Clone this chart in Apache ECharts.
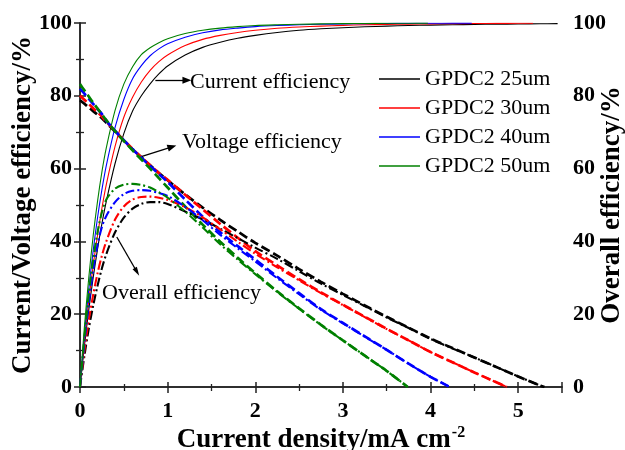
<!DOCTYPE html>
<html>
<head>
<meta charset="utf-8">
<script src="https://cdn.jsdelivr.net/npm/echarts@6/dist/echarts.min.js"></script>
<style>
html,body{margin:0;padding:0;background:#fff;}
#chart{width:625px;height:450px;}
</style>
</head>
<body>
<div id="chart"></div>
<script>
// Current density grid (mA cm^-2)
const xGrid = [0,0.05,0.1,0.15,0.2,0.25,0.3,0.4,0.5,0.6,0.7,0.8,0.9,1.0,1.2,1.4,1.6,1.8,2.0,2.25,2.5,2.75,3.0,3.25,3.5,3.75,4.0,4.25,4.5,4.75,5.0,5.25];

const seriesNames = ['GPDC2 25um','GPDC2 30um','GPDC2 40um','GPDC2 50um'];
const colors = ['#000000','#ff0000','#0000ff','#008000'];

// Current efficiency (solid)
const ce25 = [0,11.2,21.2,30.0,37.9,44.9,51.0,61.4,69.6,75.8,80.0,83.3,86.0,88.2,91.2,93.3,94.7,95.8,96.6,97.4,98.0,98.4,98.7,98.95,99.15,99.3,99.42,99.52,99.6,99.67,99.73,99.78];
const ce30 = [0,12.6,23.7,33.3,41.7,49.1,55.6,66.1,74.1,79.6,83.8,87.0,89.4,91.2,93.8,95.5,96.6,97.4,98.0,98.55,98.9,99.15,99.35,99.5,99.6,99.7,99.77,99.82,99.86,99.9,99.92];
const ce40 = [0,14.5,26.8,37.4,46.5,54.2,60.8,71.3,79.0,84.7,88.3,91.0,92.9,94.3,96.1,97.3,98.1,98.6,99.0,99.3,99.5,99.65,99.75,99.82,99.87,99.91,99.94,99.96];
const ce50 = [0,16.4,30.0,41.5,51.0,59.1,65.7,76.0,83.2,88.0,91.3,93.2,94.6,95.7,97.1,98.0,98.6,99.0,99.3,99.5,99.65,99.75,99.82,99.88,99.92,99.95];
const ceEnd = [[5.45,99.82],[5.17,99.94],[4.47,99.97],[3.97,99.97]];

// Voltage efficiency (dashed)
const ve25 = [78.8,77.8,76.8,75.8,74.8,73.8,72.6,70.2,67.7,65.3,63.1,60.9,58.8,56.8,52.9,49.3,45.9,42.7,39.6,36.1,32.4,28.9,25.6,22.4,19.3,16.3,13.3,10.7,8.1,5.5,2.9,0.4];
const ve30 = [80.1,78.9,77.8,76.6,75.5,74.3,72.9,70.3,67.8,65.4,63.1,60.9,58.8,56.9,52.8,48.8,44.8,41.0,37.3,33.4,29.6,26.0,22.6,19.3,16.0,12.8,9.6,6.8,4.0,1.3];
const ve40 = [82.0,80.6,79.2,77.8,76.4,75.0,73.2,70.4,67.8,65.3,63.0,60.7,58.5,56.3,51.5,46.8,42.5,38.7,35.0,30.3,25.8,21.4,17.6,13.9,10.2,6.4,2.8];
const ve50 = [83.2,81.5,79.8,78.1,76.5,74.9,73.3,70.3,67.6,65.0,62.5,60.0,57.4,54.8,49.6,44.6,39.9,35.5,31.3,26.3,21.6,17.1,12.8,8.6,4.4];

// Overall efficiency (dash-dot)
const oe25 = [0,8.5,16.0,22.3,27.8,32.6,36.5,42.5,46.5,49.0,50.3,50.8,50.8,50.3,48.2,46.0,43.5,40.9,38.3,35.2,31.8,28.4,25.3,22.2,19.1,16.2,13.2,10.6,8.1,5.5,2.9,0.4];
const oe30 = [0,9.9,18.3,25.3,31.2,36.1,40.0,46.0,49.6,51.5,52.2,52.3,52.0,51.4,49.4,46.6,43.3,39.9,36.6,32.9,29.3,25.8,22.5,19.2,15.9,12.8,9.6,6.8,4.0,1.3];
const oe40 = [0,12.0,23.0,32.0,39.0,44.0,47.0,50.8,53.0,53.9,54.1,53.9,53.3,52.5,49.5,45.8,41.8,38.1,34.5,29.9,25.5,21.2,17.5,13.8,10.2,6.4,2.8];
const oe50 = [0,13.5,25.5,35.0,42.5,48.0,51.5,54.5,55.6,55.8,55.5,54.8,53.5,52.0,48.2,43.8,39.2,35.0,31.0,26.1,21.5,17.0,12.8,8.6,4.4];
const zeroEndX = [5.3,4.87,4.22,3.74];

function pairs(vals, end) {
  const d = vals.map((v, i) => [xGrid[i], v]);
  d.push(end);
  return d;
}

const FONT = '"Times New Roman","Liberation Serif",serif';
const ceData = [ce25, ce30, ce40, ce50];
const veData = [ve25, ve30, ve40, ve50];
const oeData = [oe25, oe30, oe40, oe50];

const series = [];
for (let k = 0; k < 4; k++) {
  series.push({
    name: seriesNames[k], type: 'line', data: pairs(ceData[k], ceEnd[k]),
    symbol: 'none', smooth: 0.3, z: 2 + k,
    lineStyle: {color: colors[k], width: 1.1}, itemStyle: {color: colors[k]}
  });
}
for (let k = 0; k < 4; k++) {
  series.push({
    name: 'VE ' + seriesNames[k], type: 'line', data: pairs(veData[k], [zeroEndX[k], 0]),
    symbol: 'none', smooth: 0.3, z: 6 + k,
    lineStyle: {color: colors[k], width: 2.7, type: [9, 4]}
  });
}
for (let k = 0; k < 4; k++) {
  series.push({
    name: 'OE ' + seriesNames[k], type: 'line', yAxisIndex: 1, data: pairs(oeData[k], [zeroEndX[k], 0]),
    symbol: 'none', smooth: 0.3, z: 10 + k,
    lineStyle: {color: colors[k], width: 2.1, type: [9, 3, 2, 3]}
  });
}
// annotation arrows
series.push({
  name: 'arrows', type: 'line', data: [], z: 20, silent: true,
  markLine: {
    silent: true, symbol: ['none', 'triangle'], symbolSize: [7, 9],
    label: {show: false},
    lineStyle: {color: '#000', width: 1.3, type: 'solid'},
    data: [
      [{coord: [0.86, 84.3]}, {coord: [1.22, 84.3]}],
      [{coord: [0.69, 63.2]}, {coord: [1.05, 66.0]}],
      [{coord: [0.42, 41.2], symbolSize: [5, 9]}, {coord: [0.65, 31.6], symbolSize: [5, 9]}]
    ]
  }
});

const axisLineStyle = {color: '#222', width: 1.5};
const labelStyle = {color: '#000', fontFamily: FONT, fontWeight: 'bold', fontSize: 22};
const nameStyle = {fontFamily: FONT, fontWeight: 'bold', fontSize: 27, color: '#000'};

const option = {
  animation: false,
  backgroundColor: '#fff',
  grid: {left: 80, right: 63, top: 23, bottom: 63, containLabel: false, outerBoundsMode: 'none'},
  legend: {
    data: seriesNames.map((n, k) => ({name: n, itemStyle: {color: colors[k]}})),
    orient: 'vertical', left: 374, top: 63, padding: 5,
    itemWidth: 41, itemHeight: 14, itemGap: 7, icon: 'path://M0,6.2H41V7.8H0Z',
    textStyle: {fontFamily: FONT, fontSize: 22, color: '#000', lineHeight: 22}
  },
  xAxis: [{
    type: 'value', min: 0, max: 5.5, interval: 1,
    name: '{a|Current density/mA cm}{b|-2}', nameLocation: 'middle', nameGap: 38, nameMoveOverlap: false,
    nameTextStyle: {rich: {
      a: nameStyle,
      b: {fontFamily: FONT, fontWeight: 'bold', fontSize: 16, color: '#000', verticalAlign: 'top', padding: [0,0,14,1]}
    }},
    axisLine: {lineStyle: axisLineStyle},
    axisTick: {inside: false, length: 6, lineStyle: axisLineStyle},
    minorTick: {show: true, splitNumber: 2, length: 4, lineStyle: {color: '#222', width: 1.3}},
    axisLabel: Object.assign({margin: 13, showMaxLabel: false}, labelStyle),
    splitLine: {show: false}
  }, {
    type: 'value', min: 0, max: 5.5, interval: 1, position: 'top',
    axisLine: {lineStyle: axisLineStyle},
    axisTick: {inside: false, length: 5, lineStyle: axisLineStyle},
    minorTick: {show: true, splitNumber: 2, length: 3, lineStyle: {color: '#222', width: 1.3}},
    axisLabel: {show: false}, splitLine: {show: false}
  }],
  yAxis: [{
    type: 'value', min: 0, max: 100, interval: 20,
    name: 'Current/Voltage efficiency/%', nameLocation: 'middle', nameGap: 43, nameRotate: 90, nameMoveOverlap: false,
    nameTextStyle: nameStyle,
    axisLine: {show: true, lineStyle: axisLineStyle},
    axisTick: {show: true, inside: false, length: 6, lineStyle: axisLineStyle},
    minorTick: {show: true, splitNumber: 2, length: 4, lineStyle: {color: '#222', width: 1.3}},
    axisLabel: Object.assign({margin: 8}, labelStyle),
    splitLine: {show: false}
  }, {
    type: 'value', min: 0, max: 100, interval: 20, position: 'right',
    name: 'Overall efficiency/%', nameLocation: 'middle', nameGap: 37, nameRotate: 90, nameMoveOverlap: false,
    nameTextStyle: nameStyle,
    axisLine: {show: true, lineStyle: axisLineStyle},
    axisTick: {show: true, inside: false, length: 6, lineStyle: axisLineStyle},
    minorTick: {show: true, splitNumber: 2, length: 4, lineStyle: {color: '#222', width: 1.3}},
    axisLabel: Object.assign({margin: 11}, labelStyle),
    splitLine: {show: false}
  }],
  graphic: [
    {type: 'text', left: 190, top: 71, style: {text: 'Current efficiency', font: '22px ' + FONT, fill: '#000'}},
    {type: 'text', left: 182, top: 131, style: {text: 'Voltage efficiency', font: '22px ' + FONT, fill: '#000'}},
    {type: 'text', left: 102, top: 282, style: {text: 'Overall efficiency', font: '22px ' + FONT, fill: '#000'}}
  ],
  series: series
};

const chart = echarts.init(document.getElementById('chart'), null, {renderer: 'canvas'});
chart.setOption(option);
</script>
</body>
</html>
